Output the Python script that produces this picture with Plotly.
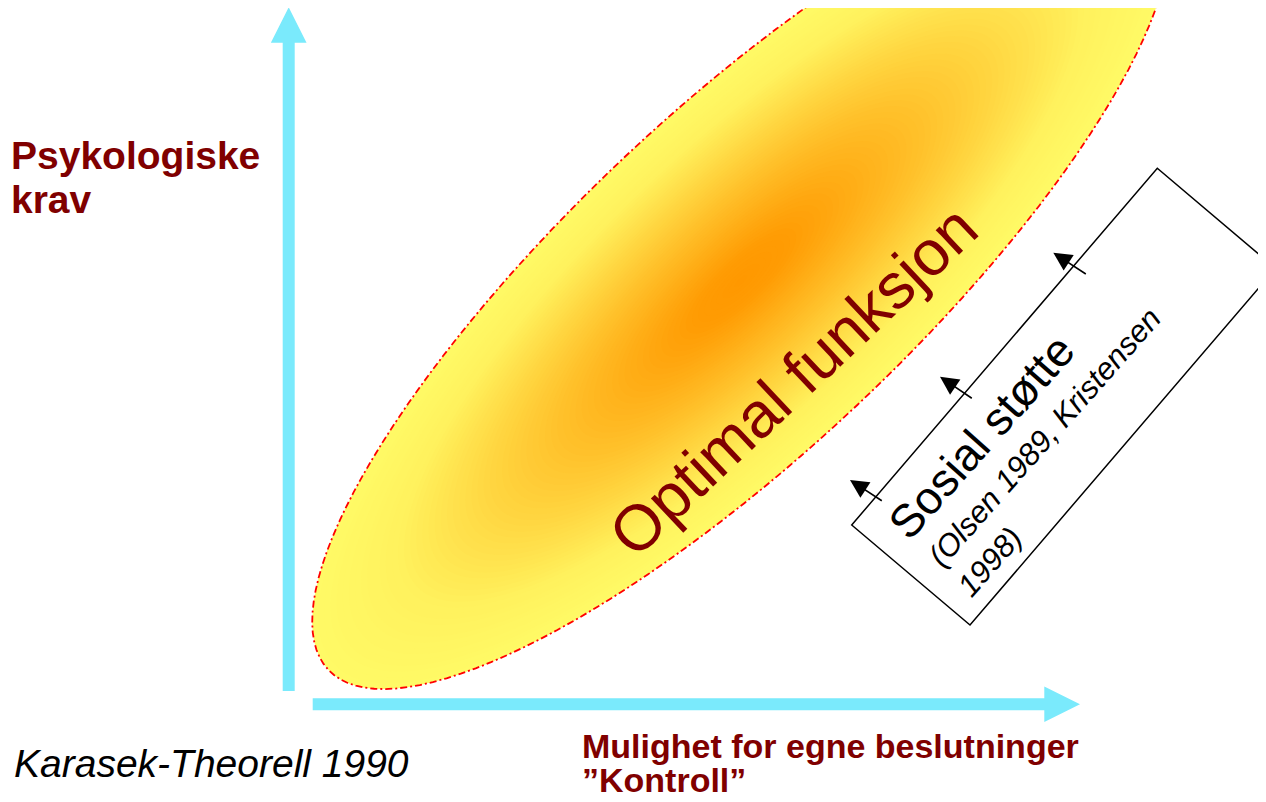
import math
import plotly.graph_objects as go

# ---------------- content ----------------
y_axis_label = ["Psykologiske", "krav"]
x_axis_label = ["Mulighet for egne beslutninger", "\u201dKontroll\u201d"]
zone_label = "Optimal funksjon"
support_title = "Sosial støtte"
support_refs = ["(Olsen 1989, Kristensen", "1998)"]
source_note = "Karasek-Theorell 1990"

# gradient stops: normalised elliptical radius -> colour
grad_r = [0.0, 0.12, 0.45, 0.80, 1.0]
grad_rgb = [(255, 152, 0), (255, 156, 4), (255, 196, 46), (255, 241, 93), (255, 250, 102)]

# ---------------- geometry (pixel space of the slide) ----------------
W, H = 1266, 802
PAGE_OFFSET = 8  # default body margin of the html page
FONT = "Liberation Sans, Arial, sans-serif"
DARKRED = "#800000"
CYAN = "#7AEAFC"

ELL = dict(cx=741.0, cy=281.0, a=567.0, b=170.0, ang=43.3)

V_ARROW = dict(x=288.7, y0=691.0, y1=7.3, shaft=12.0, head_w=35.7, head_len=35.4)
H_ARROW = dict(y=704.2, x0=312.7, x1=1080.0, shaft=12.0, head_w=35.6, head_len=35.7)

BOX_L = (851.7, 525.0)
BOX_LONG = (305.6, -356.7)
BOX_SHORT = (118.3, 100.0)

ARROW_TAILS = [(883.3, 501.7), (973.3, 399.3), (1087.3, 275.0)]
ARROW_TIPS = [(850.0, 480.0), (940.0, 376.7), (1053.3, 252.7)]


def ellipse_path(scale, n=140):
    e = ELL
    c, s = math.cos(math.radians(e["ang"])), math.sin(math.radians(e["ang"]))
    pts = []
    for i in range(n):
        t = 2 * math.pi * i / n
        u, v = e["a"] * scale * math.cos(t), e["b"] * scale * math.sin(t)
        x = e["cx"] + u * c - v * s
        y = e["cy"] - (u * s + v * c)
        pts.append(f"{x:.2f},{y:.2f}")
    return "M" + " L".join(pts) + " Z"


def colour_at(r):
    for i in range(len(grad_r) - 1):
        if grad_r[i] <= r <= grad_r[i + 1]:
            f = (r - grad_r[i]) / (grad_r[i + 1] - grad_r[i])
            c0, c1 = grad_rgb[i], grad_rgb[i + 1]
            return "rgb(%d,%d,%d)" % tuple(round(c0[k] + (c1[k] - c0[k]) * f) for k in range(3))
    return "rgb(%d,%d,%d)" % grad_rgb[-1]


shapes = []
# gradient ellipse as nested layers
N = 70
for k in range(N):
    r = 1 - k / N
    shapes.append(dict(type="path", path=ellipse_path(r), xref="x", yref="y",
                       fillcolor=colour_at(r), line=dict(width=0), layer="above"))
# dash-dot red outline
shapes.append(dict(type="path", path=ellipse_path(1.0), xref="x", yref="y",
                   fillcolor="rgba(0,0,0,0)",
                   line=dict(color="#FF0000", width=1.8, dash="7px,3px,2px,3px"), layer="above"))

# cyan axis arrows
va = V_ARROW
hw, sw = va["head_w"] / 2, va["shaft"] / 2
yb = va["y1"] + va["head_len"]
shapes.append(dict(type="path", xref="x", yref="y", fillcolor=CYAN, line=dict(width=0), layer="above",
                   path=f"M{va['x']-sw},{va['y0']} L{va['x']-sw},{yb} L{va['x']-hw},{yb} L{va['x']},{va['y1']} "
                        f"L{va['x']+hw},{yb} L{va['x']+sw},{yb} L{va['x']+sw},{va['y0']} Z"))
ha = H_ARROW
hw, sw = ha["head_w"] / 2, ha["shaft"] / 2
xb = ha["x1"] - ha["head_len"]
shapes.append(dict(type="path", xref="x", yref="y", fillcolor=CYAN, line=dict(width=0), layer="above",
                   path=f"M{ha['x0']},{ha['y']-sw} L{xb},{ha['y']-sw} L{xb},{ha['y']-hw} L{ha['x1']},{ha['y']} "
                        f"L{xb},{ha['y']+hw} L{xb},{ha['y']+sw} L{ha['x0']},{ha['y']+sw} Z"))

# rotated box
L = BOX_L
T = (L[0] + BOX_LONG[0], L[1] + BOX_LONG[1])
R = (T[0] + BOX_SHORT[0], T[1] + BOX_SHORT[1])
B = (L[0] + BOX_SHORT[0], L[1] + BOX_SHORT[1])
shapes.append(dict(type="path", xref="x", yref="y", fillcolor="rgba(0,0,0,0)",
                   line=dict(color="black", width=1.5), layer="above",
                   path=f"M{L[0]},{L[1]} L{T[0]},{T[1]} L{R[0]},{R[1]} L{B[0]},{B[1]} Z"))

annotations = []


def txt(text, x, y, size, color="black", angle=0, xanchor="center", yanchor="middle"):
    annotations.append(dict(text=text, x=x, y=y, xref="x", yref="y", showarrow=False,
                            xanchor=xanchor, yanchor=yanchor, textangle=angle,
                            font=dict(family=FONT, size=size, color=color)))


# small black arrows
for (tx, ty), (hx, hy) in zip(ARROW_TAILS, ARROW_TIPS):
    annotations.append(dict(x=hx, y=hy, ax=tx, ay=ty, xref="x", yref="y", axref="x", ayref="y",
                            text="", showarrow=True, arrowhead=2, arrowsize=2.3, arrowwidth=1.6,
                            arrowcolor="black", standoff=0, startstandoff=0))

# labels
txt(f"<b>{y_axis_label[0]}</b>", 9, 169 - 0.35 * 39, 39, DARKRED, xanchor="left")
txt(f"<b>{y_axis_label[1]}</b>", 9, 213 - 0.35 * 39, 39, DARKRED, xanchor="left")
txt(f"<b>{x_axis_label[0]}</b>", 580, 758 - 0.35 * 34, 34, DARKRED, xanchor="left")
txt(f"<b>{x_axis_label[1]}</b>", 580, 791.7 - 0.35 * 34, 34, DARKRED, xanchor="left")
txt(f"<i>{source_note}</i>", 12, 777 - 0.35 * 39, 39, "black", xanchor="left")

txt(zone_label, 793, 381, 64, DARKRED, angle=-43.3)
txt(support_title, 981, 437, 46, "black", angle=-48.5)
txt(f"<i>{support_refs[0]}</i>", 1044, 437, 31, "black", angle=-48.5)
txt(f"<i>{support_refs[1]}</i>", 989, 562, 31, "black", angle=-48.5)

fig = go.Figure()
fig.add_trace(go.Scatter(x=[PAGE_OFFSET, W], y=[PAGE_OFFSET, H], mode="markers", marker=dict(opacity=0),
                         hoverinfo="skip", showlegend=False))
fig.update_layout(
    width=W, height=H, margin=dict(l=0, r=0, t=0, b=0),
    paper_bgcolor="white", plot_bgcolor="white",
    xaxis=dict(range=[PAGE_OFFSET, W + PAGE_OFFSET], visible=False, fixedrange=True),
    yaxis=dict(range=[H + PAGE_OFFSET, PAGE_OFFSET], visible=False, fixedrange=True),
    shapes=shapes, annotations=annotations, showlegend=False,
)
fig.write_html("out.html")
